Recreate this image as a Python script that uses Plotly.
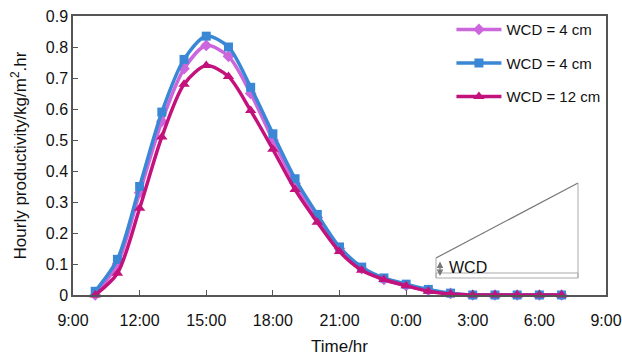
import plotly.graph_objects as go

hours = [10, 11, 12, 13, 14, 15, 16, 17, 18, 19, 20, 21, 22, 23, 24, 25, 26, 27, 28, 29, 30, 31]
wcd4a = [0.0, 0.10, 0.33, 0.56, 0.73, 0.805, 0.77, 0.65, 0.50, 0.36, 0.25, 0.15, 0.085, 0.05, 0.03, 0.015, 0.005, 0.0, 0.0, 0.0, 0.0, 0.0]
wcd4b = [0.012, 0.115, 0.35, 0.59, 0.76, 0.835, 0.80, 0.67, 0.52, 0.375, 0.26, 0.155, 0.09, 0.055, 0.035, 0.018, 0.006, 0.0, 0.0, 0.0, 0.0, 0.0]
wcd12 = [0.0, 0.07, 0.28, 0.51, 0.68, 0.74, 0.705, 0.595, 0.47, 0.34, 0.235, 0.14, 0.08, 0.05, 0.03, 0.012, 0.003, 0.0, 0.0, 0.0, 0.0, 0.0]
tick_vals = [9, 12, 15, 18, 21, 24, 27, 30, 33]
tick_text = ["9:00", "12:00", "15:00", "18:00", "21:00", "0:00", "3:00", "6:00", "9:00"]
names = ["WCD = 4 cm", "WCD = 4 cm", "WCD = 12 cm"]

fig = go.Figure()
series = [
    (wcd4a, names[0], "#cc66dd", "diamond", 9),
    (wcd4b, names[1], "#3a87d6", "square", 9),
    (wcd12, names[2], "#c4127c", "triangle-up", 10),
]
for i, (ys, nm, col, sym, sz) in enumerate(series):
    fig.add_trace(go.Scatter(
        x=hours, y=ys, name=nm, mode="lines+markers", legendgroup="g%d" % i,
        line=dict(color=col, width=3.5, shape="spline", smoothing=0.8),
        marker=dict(symbol=sym, size=sz, color=col),
        cliponaxis=False,
    ))

axis_font = dict(family="Liberation Sans, Arial, sans-serif", size=16, color="#111")
fig.update_layout(
    width=622, height=360,
    margin=dict(l=73, r=16, t=16, b=65),
    paper_bgcolor="white", plot_bgcolor="white",
    font=axis_font,
    showlegend=True,
    legend=dict(x=0.71, y=1.01, xanchor="left", yanchor="top",
                bgcolor="rgba(0,0,0,0)", font=dict(size=15, color="#111"),
                tracegroupgap=11, itemwidth=45),
    xaxis=dict(range=[9, 33], tickvals=tick_vals, ticktext=tick_text,
               ticks="inside", ticklen=5, tickcolor="#555", automargin=False,
               ticklabelstandoff=10,
               showline=True, linecolor="#555", linewidth=1.5, mirror=True,
               showgrid=False, zeroline=False,
               title=dict(text="Time/hr", font=dict(size=17), standoff=12)),
    yaxis=dict(range=[0, 0.9], dtick=0.1, automargin=False,
               ticks="inside", ticklen=5, tickcolor="#555",
               showline=True, linecolor="#555", linewidth=1.5, mirror=True,
               showgrid=False, zeroline=False,
               title=dict(text="Hourly productivity/kg/m<sup>2</sup>.hr", font=dict(size=17), standoff=15)),
)

# inset schematic (paper coordinates; page pixel positions)
def px(x):
    return (x - 73) / (606 - 73)

def py(y):
    return (295 - y) / (295 - 16)

fig.add_shape(type="line", xref="paper", yref="paper", x0=px(436), y0=py(258), x1=px(578), y1=py(183), line=dict(color="#777", width=1.2))
fig.add_shape(type="line", xref="paper", yref="paper", x0=px(578), y0=py(183), x1=px(578), y1=py(278), line=dict(color="#aaa", width=1))
fig.add_shape(type="line", xref="paper", yref="paper", x0=px(436), y0=py(258), x1=px(436), y1=py(278), line=dict(color="#aaa", width=1))
fig.add_shape(type="rect", xref="paper", yref="paper", x0=px(436), y0=py(273), x1=px(578), y1=py(278), line=dict(color="#aaa", width=1))
fig.add_annotation(xref="paper", yref="paper", x=px(440), y=py(276), ax=0, ay=-16,
                   axref="pixel", ayref="pixel", showarrow=True, arrowhead=2, arrowsize=1,
                   arrowwidth=1.3, arrowside="end+start", arrowcolor="#777", text="")
fig.add_annotation(xref="paper", yref="paper", x=px(447), y=py(267), xanchor="left", yanchor="middle",
                   text="WCD", showarrow=False, font=dict(size=16, color="#111"))

fig.write_html("out.html", config={"displayModeBar": False},
               post_script="document.body.style.margin='0';document.body.style.overflow='hidden';")
